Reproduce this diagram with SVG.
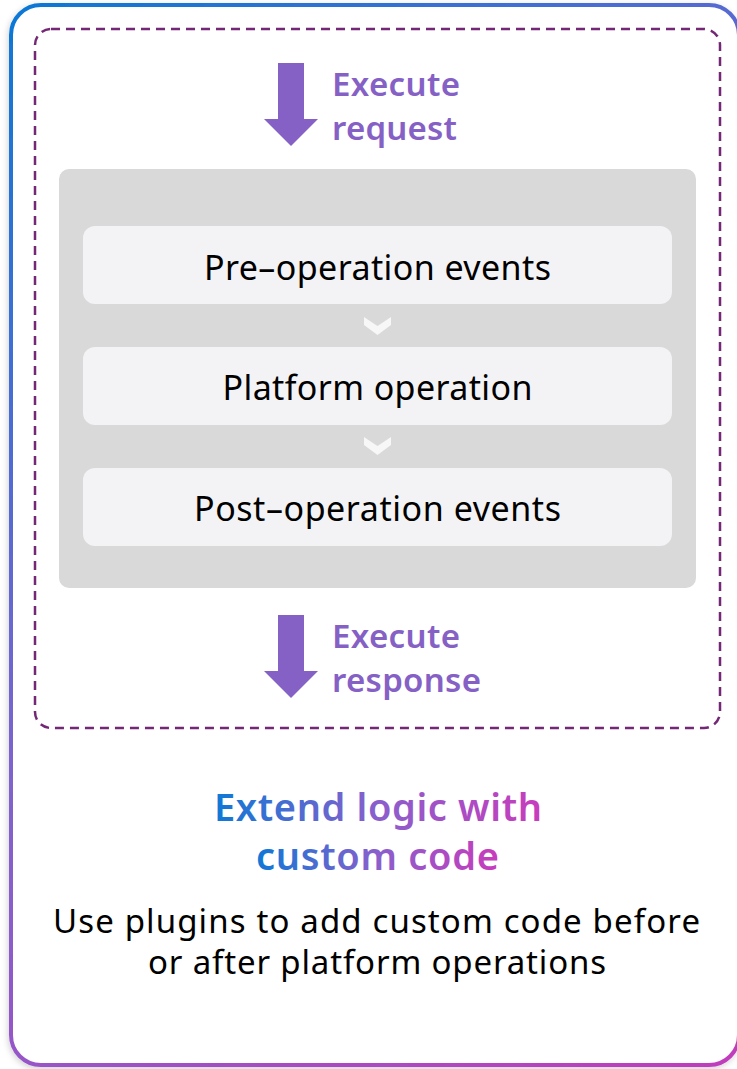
<svg xmlns="http://www.w3.org/2000/svg" width="737" height="1069" viewBox="0 0 737 1069">
  <defs>
    <linearGradient id="frameGrad" gradientUnits="userSpaceOnUse" x1="0" y1="0" x2="737" y2="1069">
      <stop offset="0" stop-color="#0a78d6"/>
      <stop offset="0.5" stop-color="#7f63cf"/>
      <stop offset="1" stop-color="#c23cbc"/>
    </linearGradient>
    <linearGradient id="titleGrad" x1="0" y1="0" x2="1" y2="0">
      <stop offset="0" stop-color="#0f78d6"/>
      <stop offset="0.5" stop-color="#8a5fcc"/>
      <stop offset="1" stop-color="#c83cbc"/>
    </linearGradient>
    <filter id="shadow" x="-5%" y="-5%" width="110%" height="110%">
      <feDropShadow dx="-1" dy="2" stdDeviation="3" flood-color="#000" flood-opacity="0.18"/>
    </filter>
  </defs>
  <style>
    .step { fill: #f3f3f5; }
    .stepText { font-family: "Noto Sans", "Open Sans", sans-serif; font-size: 34px; fill: #000; text-anchor: middle; }
    .purpleText { font-family: "Noto Sans", "Open Sans", sans-serif; font-size: 33px; font-weight: 600; fill: #8661c5; }
    .arrow { fill: #8661c5; }
    .chev { fill: #f7f7f8; }
    .title { font-family: "Noto Sans", "Open Sans", sans-serif; font-size: 38px; font-weight: 600; fill: url(#titleGrad); text-anchor: middle; }
    .body { font-family: "Noto Sans", "Open Sans", sans-serif; font-size: 33px; fill: #000; text-anchor: middle; }
  </style>

  <g id="frame">
    <rect x="11" y="5" width="728" height="1060" rx="30" ry="30" fill="#ffffff" stroke="url(#frameGrad)" stroke-width="4" filter="url(#shadow)"/>
  </g>

  <g id="boundary">
    <rect x="35" y="29" width="685" height="699" rx="16" ry="16" fill="none" stroke="#742774" stroke-width="2.5" stroke-dasharray="9 6"/>
  </g>

  <g id="pipeline">
    <rect x="59" y="169" width="637" height="419" rx="10" ry="10" fill="#d9d9d9"/>
  </g>

  <g id="pre-operation">
    <rect class="step" x="83" y="226" width="589" height="78" rx="12" ry="12"/>
    <text class="stepText" x="377.5" y="280" textLength="347">Pre–operation events</text>
  </g>

  <g id="platform-operation">
    <rect class="step" x="83" y="347" width="589" height="78" rx="12" ry="12"/>
    <text class="stepText" x="377.5" y="400" textLength="310">Platform operation</text>
  </g>

  <g id="post-operation">
    <rect class="step" x="83" y="468" width="589" height="78" rx="12" ry="12"/>
    <text class="stepText" x="377.5" y="521" textLength="367">Post–operation events</text>
  </g>

  <g id="connectors">
    <polygon class="chev" points="364,317 377.5,326 391,317 391,325 377.5,335 364,325"/>
    <polygon class="chev" points="364,437 377.5,446 391,437 391,445 377.5,455 364,445"/>
    <polygon class="arrow" points="278,63 304,63 304,119 318,119 291,146 264,119 278,119"/>
    <polygon class="arrow" points="278,615 304,615 304,671 318,671 291,698 264,671 278,671"/>
  </g>

  <g id="execute-request">
    <text class="purpleText" x="332" y="96" textLength="128">Execute</text>
    <text class="purpleText" x="332" y="140" textLength="125">request</text>
  </g>

  <g id="execute-response">
    <text class="purpleText" x="332" y="648" textLength="128">Execute</text>
    <text class="purpleText" x="332" y="692" textLength="149">response</text>
  </g>

  <g id="caption">
    <text class="title" x="378" y="821" textLength="328">Extend logic with</text>
    <text class="title" x="377.5" y="870" textLength="243">custom code</text>
    <text class="body" x="376.5" y="933" textLength="647">Use plugins to add custom code before</text>
    <text class="body" x="377" y="974" textLength="458">or after platform operations</text>
  </g>
</svg>
